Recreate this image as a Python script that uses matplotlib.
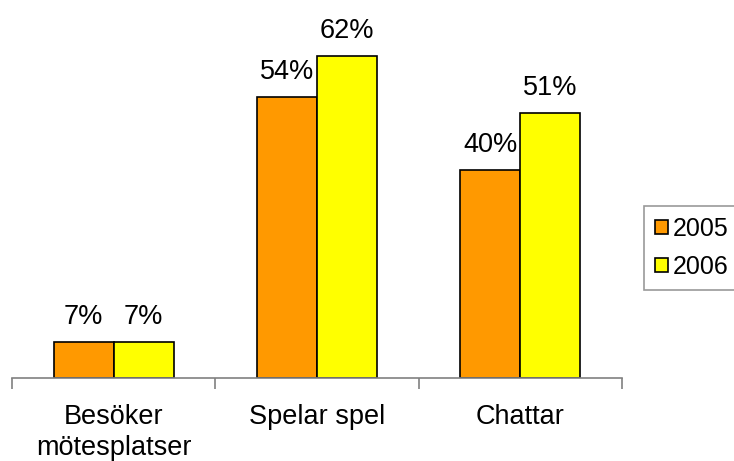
import numpy as np
import matplotlib.pyplot as plt
plt.rcParams.update({'font.family': 'Liberation Sans'})

# Andel (%) per aktivitet och år
kategorier = ['Besöker\nmötesplatser', 'Spelar spel', 'Chattar']
ar_2005 = [7, 54, 40]
ar_2006 = [7, 62, 51]

fig = plt.figure(figsize=(7.34, 4.61), dpi=100)
ax = fig.add_axes([12 / 734, 83 / 461, 610 / 734, 364 / 461])

x = np.arange(len(kategorier))
w = 0.295
b1 = ax.bar(x - w / 2, ar_2005, w, color='#FF9900', edgecolor='black', linewidth=1.2, label='2005')
b2 = ax.bar(x + w / 2, ar_2006, w, color='#FFFF00', edgecolor='black', linewidth=1.2, label='2006')

# Procentetiketter ovanför staplarna
for bars, vals in [(b1, ar_2005), (b2, ar_2006)]:
    for b, v in zip(bars, vals):
        ax.annotate(f'{v}%', (b.get_x() + b.get_width() / 2, v),
                    xytext=(0, 13), textcoords='offset points',
                    ha='center', va='baseline', fontsize=19.5)

ax.set_xlim(-0.5, 2.5)
ax.set_ylim(0, 70)
ax.set_yticks([])
for s in ['top', 'right', 'left']:
    ax.spines[s].set_visible(False)
ax.spines['bottom'].set_color('#808080')
ax.spines['bottom'].set_linewidth(1.2)

ax.set_xticks(x)
ax.set_xticklabels(kategorier, fontsize=19.5, linespacing=1.25)
ax.tick_params(axis='x', which='major', length=0, pad=19)
ax.set_xticks([-0.5, 0.5, 1.5, 2.5], minor=True)
ax.tick_params(axis='x', which='minor', length=8, width=1.2, color='#808080', direction='out')

leg = fig.legend(loc='center left', bbox_to_anchor=(644 / 734, 1 - 248 / 461),
                 fontsize=18, frameon=True, fancybox=False, edgecolor='#808080',
                 handlelength=0.5, handleheight=0.5, handletextpad=0.2,
                 labelspacing=0.55, borderpad=0.45, borderaxespad=0)
leg.get_frame().set_linewidth(1.2)

plt.savefig('out.png', dpi=100)
